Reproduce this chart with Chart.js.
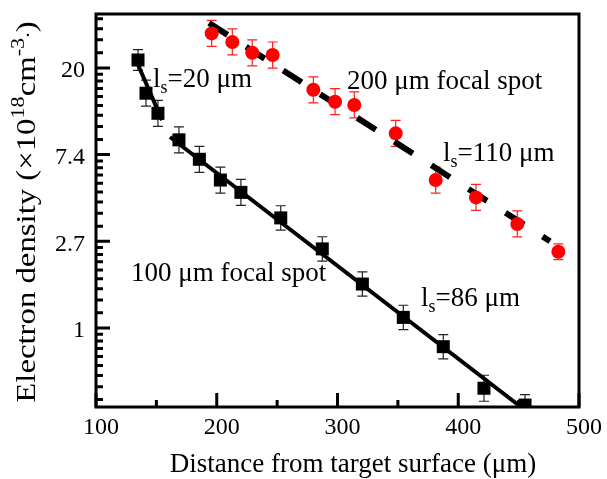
<!DOCTYPE html>
<html>
<head>
<meta charset="utf-8">
<script src="https://cdn.jsdelivr.net/npm/chart.js@4.4.1/dist/chart.umd.min.js"></script>
<style>
  html, body { margin: 0; padding: 0; background: #fff; }
  #wrap { width: 607px; height: 479px; }
</style>
</head>
<body>
<div id="wrap"><canvas id="chart"></canvas></div>
<script>
const FONT = "'Liberation Serif', 'Times New Roman', serif";

// 100 um focal spot (black squares), error half-widths in ln units
const spot100X = [134.8, 141.4, 151.3, 168.7, 185.6, 203, 220, 253, 287.4, 320.6, 354.5, 387.6, 421.3, 455.3];
const spot100Y = [22.0, 15.0, 11.9, 8.76, 7.0, 5.51, 4.78, 3.56, 2.49, 1.66, 1.13, 0.806, 0.499, 0.411];
const spot100Err = [0.12, 0.15, 0.15, 0.15, 0.15, 0.15, 0.15, 0.14, 0.14, 0.14, 0.14, 0.14, 0.15, 0.12];

// 200 um focal spot (red circles)
const spot200X = [195.8, 212.9, 229.4, 246.3, 280, 298, 313.9, 348.2, 381.3, 414.7, 448.9, 482.9];
const spot200Y = [29.9, 27.1, 23.9, 23.3, 15.6, 13.6, 13.1, 9.44, 5.51, 4.51, 3.32, 2.41];
const spot200Err = [0.15, 0.15, 0.15, 0.15, 0.15, 0.15, 0.15, 0.15, 0.15, 0.15, 0.15, 0.09];

// exponential fits (end points)
const fit20X = [133.1, 154.7];
const fit20Y = [22.0, 11.0];
const fit86X = [161.3, 452];
const fit86Y = [9.05, 0.402];
const fit110X = [193.6, 476];
const fit110Y = [33.7, 2.72];

const xTickValues = [100, 200, 300, 400, 500];
const xMinorValues = [150, 250, 350, 450];
const yTickValues = [1, Math.E, Math.E ** 2, Math.E ** 3];
const yTickLabels = ['1', '2.7', '7.4', '20'];

const pts = (xs, ys) => xs.map((x, i) => ({ x: x, y: ys[i] }));

// error bars under the markers
const errorBars = {
  id: 'errorBars',
  beforeDatasetsDraw(chart) {
    const { ctx, chartArea: a, scales: { x, y } } = chart;
    ctx.save();
    ctx.beginPath();
    ctx.rect(a.left, a.top, a.right - a.left, a.bottom - a.top);
    ctx.clip();
    const sets = [
      [spot100X, spot100Y, spot100Err, '#222'],
      [spot200X, spot200Y, spot200Err, '#ff2020']
    ];
    sets.forEach(([xs, ys, es, col]) => {
      ctx.strokeStyle = col;
      ctx.lineWidth = 1.2;
      xs.forEach((xv, i) => {
        const px = x.getPixelForValue(xv);
        const top = y.getPixelForValue(ys[i] * Math.exp(es[i]));
        const bot = y.getPixelForValue(ys[i] * Math.exp(-es[i]));
        ctx.beginPath();
        ctx.moveTo(px, top); ctx.lineTo(px, bot);
        ctx.moveTo(px - 5, top); ctx.lineTo(px + 5, top);
        ctx.moveTo(px - 5, bot); ctx.lineTo(px + 5, bot);
        ctx.stroke();
      });
    });
    ctx.restore();
  }
};

function drawRich(ctx, parts, x, y, align) {
  // parts: [text, size, dy]
  let total = 0;
  parts.forEach(p => { ctx.font = p[1] + 'px ' + FONT; total += ctx.measureText(p[0]).width; });
  let cx = align === 'center' ? x - total / 2 : x;
  ctx.textAlign = 'left';
  ctx.textBaseline = 'alphabetic';
  parts.forEach(p => {
    ctx.font = p[1] + 'px ' + FONT;
    ctx.fillText(p[0], cx, y + p[2]);
    cx += ctx.measureText(p[0]).width;
  });
}

// frame, inward ticks, titles and labels
const frame = {
  id: 'frame',
  afterDatasetsDraw(chart) {
    const { ctx, chartArea: a, scales: { x, y } } = chart;
    ctx.save();
    ctx.strokeStyle = '#000';
    ctx.lineWidth = 3;
    ctx.lineCap = 'butt';
    ctx.strokeRect(a.left, a.top, a.right - a.left, a.bottom - a.top);

    ctx.beginPath();
    xTickValues.forEach(v => {
      const px = x.getPixelForValue(v);
      ctx.moveTo(px, a.bottom); ctx.lineTo(px, a.bottom - 14);
    });
    xMinorValues.forEach(v => {
      const px = x.getPixelForValue(v);
      ctx.moveTo(px, a.bottom); ctx.lineTo(px, a.bottom - 7);
    });
    for (let n = -1; n <= 3; n++) {
      const lo = Math.exp(n), hi = Math.exp(n + 1);
      const py = y.getPixelForValue(lo);
      if (py >= a.top && py <= a.bottom) {
        ctx.moveTo(a.left, py); ctx.lineTo(a.left + 14, py);
      }
      for (let k = 1; k <= 8; k++) {
        const my = y.getPixelForValue(lo + k * (hi - lo) / 9);
        if (my > a.top + 2 && my < a.bottom - 2) {
          ctx.moveTo(a.left, my); ctx.lineTo(a.left + 7, my);
        }
      }
    }
    ctx.stroke();

    ctx.fillStyle = '#000';
    drawRich(ctx, [['Distance from target surface (\u03bcm)', 27, 0]], 353, 472, 'center');

    ctx.save();
    ctx.translate(35, 212);
    ctx.rotate(-Math.PI / 2);
    ctx.scale(1.17, 1);
    drawRich(ctx, [
      ['Electron density (\u00d710', 28, 0],
      ['18', 19, -11],
      ['cm', 28, 0],
      ['-3', 19, -11],
      ['.', 19, -6],
      [')', 28, 0]
    ], 0, 0, 'center');
    ctx.restore();

    drawRich(ctx, [['l', 27, 0], ['s', 18, 6], ['=20 \u03bcm', 27, 0]], 153, 87, 'left');
    drawRich(ctx, [['200 \u03bcm focal spot', 27, 0]], 347, 89, 'left');
    drawRich(ctx, [['l', 27, 0], ['s', 18, 6], ['=110 \u03bcm', 27, 0]], 443, 161, 'left');
    drawRich(ctx, [['100 \u03bcm focal spot', 27, 0]], 131, 281, 'left');
    drawRich(ctx, [['l', 27, 0], ['s', 18, 6], ['=86 \u03bcm', 27, 0]], 421, 306, 'left');
    ctx.restore();
  }
};

new Chart(document.getElementById('chart'), {
  type: 'scatter',
  data: {
    datasets: [
      {
        label: '100 um',
        data: pts(spot100X, spot100Y),
        pointStyle: 'rect',
        pointRadius: 9.2,
        backgroundColor: '#000',
        borderColor: '#000',
        borderWidth: 0
      },
      {
        label: '200 um',
        data: pts(spot200X, spot200Y),
        pointStyle: 'circle',
        pointRadius: 7,
        backgroundColor: '#ff0000',
        borderColor: '#ff0000',
        borderWidth: 0
      },
      {
        label: 'fit 20',
        data: pts(fit20X, fit20Y),
        showLine: true,
        pointRadius: 0,
        borderColor: '#000',
        borderWidth: 4
      },
      {
        label: 'fit 86',
        data: pts(fit86X, fit86Y),
        showLine: true,
        pointRadius: 0,
        borderColor: '#000',
        borderWidth: 4
      },
      {
        label: 'fit 110',
        data: pts(fit110X, fit110Y),
        showLine: true,
        pointRadius: 0,
        borderColor: '#000',
        borderWidth: 6,
        borderDash: [22, 22]
      }
    ]
  },
  options: {
    responsive: true,
    maintainAspectRatio: false,
    animation: false,
    layout: { padding: { left: 0, right: 28, top: 14, bottom: 0 } },
    plugins: {
      legend: { display: false },
      tooltip: { enabled: false }
    },
    scales: {
      x: {
        type: 'linear',
        min: 100,
        max: 500,
        afterBuildTicks: s => { s.ticks = xTickValues.map(v => ({ value: v })); },
        afterFit: s => { s.height = 72; s.paddingLeft = 0; s.paddingRight = 0; },
        grid: { display: false, drawTicks: false },
        border: { display: false },
        ticks: {
          color: '#000',
          font: { family: FONT, size: 24 },
          padding: 6,
          labelOffset: 5,
          maxRotation: 0,
          callback: v => String(v)
        }
      },
      y: {
        type: 'logarithmic',
        min: 0.402,
        max: 37.4,
        afterBuildTicks: s => { s.ticks = yTickValues.map(v => ({ value: v })); },
        afterFit: s => { s.width = 96; s.paddingTop = 0; s.paddingBottom = 0; },
        grid: { display: false, drawTicks: false },
        border: { display: false },
        ticks: {
          color: '#000',
          font: { family: FONT, size: 24 },
          padding: 11,
          labelOffset: 3,
          callback: (v, i) => yTickLabels[i]
        }
      }
    }
  },
  plugins: [errorBars, frame]
});
</script>
</body>
</html>
